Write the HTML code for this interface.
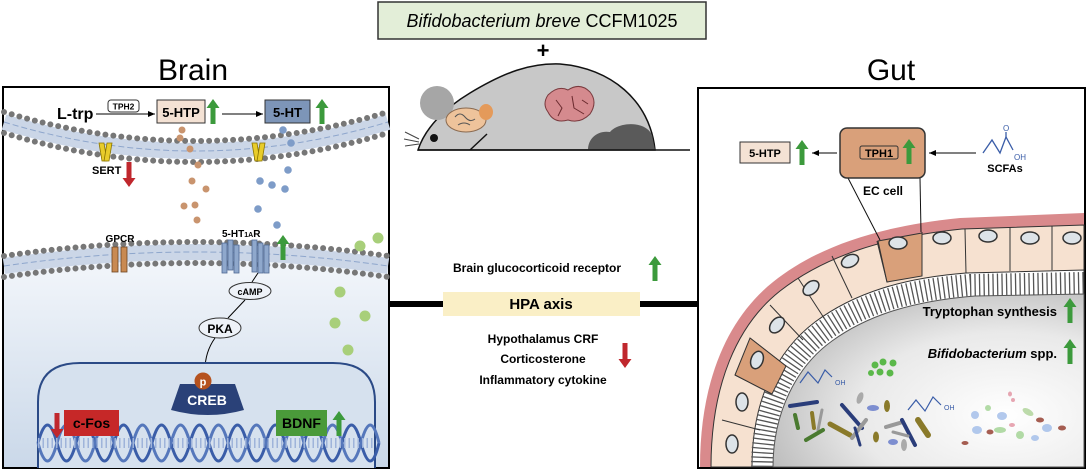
<!DOCTYPE html>
<html><head><meta charset="utf-8"><style>
html,body{margin:0;padding:0;background:#fff;}
svg{display:block;font-family:"Liberation Sans",Arial,sans-serif;}
.b{font-weight:bold;}
</style></head><body>
<svg width="1088" height="473" viewBox="0 0 1088 473" xmlns="http://www.w3.org/2000/svg">
<defs>
<g id="up"><polygon points="0,0 6.5,9 2.5,9 2.5,25 -2.5,25 -2.5,9 -6.5,9"/></g>
<g id="dn"><polygon points="0,25 6.5,16 2.5,16 2.5,0 -2.5,0 -2.5,16 -6.5,16"/></g>
<marker id="ah" markerWidth="8" markerHeight="8" refX="7" refY="4" orient="auto" markerUnits="userSpaceOnUse"><path d="M0,1 L7,4 L0,7 Z" fill="#000"/></marker>
<linearGradient id="cyto" x1="0" y1="0" x2="0" y2="1"><stop offset="0" stop-color="#f4f7fb"/><stop offset="1" stop-color="#cad8e9"/></linearGradient>
<radialGradient id="lumen" cx="0.75" cy="0.7" r="0.8"><stop offset="0" stop-color="#ffffff"/><stop offset="0.6" stop-color="#e9e9e9"/><stop offset="1" stop-color="#bdbdbd"/></radialGradient>
</defs>

<!-- Title -->
<rect x="378" y="2" width="328" height="37" fill="#e3eed8" stroke="#333" stroke-width="1.5"/>
<text x="542" y="27" text-anchor="middle" font-size="18"><tspan font-style="italic">Bifidobacterium breve</tspan> CCFM1025</text>
<text x="543" y="58" text-anchor="middle" font-size="22" class="b">+</text>

<text x="193" y="80" text-anchor="middle" font-size="30">Brain</text>
<text x="891" y="80" text-anchor="middle" font-size="30">Gut</text>

<!-- Mouse -->
<path d="M418,150 C425,128 445,108 470,93 C505,72 530,63 560,64 C610,68 650,100 655,150 Z" fill="#c8c8c8" stroke="#111" stroke-width="1.5"/>
<circle cx="437" cy="103" r="17" fill="#a6a6a6"/>
<path d="M588,150 C588,138 598,130 610,132 C618,122 645,120 652,135 L655,150 Z" fill="#5a5a5a"/>
<ellipse cx="466" cy="120" rx="20" ry="12" fill="#eec39b" stroke="#8a6a50"/>
<ellipse cx="486" cy="112" rx="7" ry="8" fill="#e49a5a"/>
<path d="M455,117 q5,-6 10,0 t10,2 M458,125 q6,-4 12,0" stroke="#555" fill="none"/>
<path d="M548,95 q10,-10 20,-5 q12,-8 22,2 q8,10 0,22 q-10,10 -22,6 q-14,4 -20,-8 q-6,-8 0,-17 Z" fill="#d58a8e" stroke="#7a3a3e"/>
<path d="M556,100 l6,8 l-4,8 M572,96 l2,12 l10,6 M582,100 l6,4" stroke="#6a2a2e" fill="none"/>
<circle cx="434" cy="138" r="4" fill="#111"/>
<path d="M405,132 l14,7 M404,139 l15,3 M405,146 l14,-2" stroke="#444"/>
<line x1="470" y1="150" x2="487" y2="134" stroke="#111" stroke-width="1.5"/>
<line x1="418" y1="150" x2="690" y2="150" stroke="#111" stroke-width="1.5"/>

<!-- Middle -->
<line x1="389" y1="304" x2="698" y2="304" stroke="#000" stroke-width="6"/>
<rect x="443" y="292" width="197" height="24" fill="#faefc6"/>
<text x="541" y="309" text-anchor="middle" font-size="15" class="b">HPA axis</text>
<text x="537" y="272" text-anchor="middle" font-size="12" class="b">Brain glucocorticoid receptor</text>
<use href="#up" x="655" y="256" fill="#3c9a3c"/>
<text x="543" y="343" text-anchor="middle" font-size="12" class="b">Hypothalamus CRF</text>
<text x="543" y="363" text-anchor="middle" font-size="12" class="b">Corticosterone</text>
<text x="543" y="384" text-anchor="middle" font-size="12" class="b">Inflammatory cytokine</text>
<use href="#dn" x="625" y="343" fill="#c0272d"/>

<!-- BRAIN PANEL -->
<rect x="3" y="87" width="386" height="381" fill="#fff" stroke="#000" stroke-width="2"/>
<path d="M4,266 Q195,238 388,266 L388,467 L4,467 Z" fill="url(#cyto)"/>
<path d="M4,122 Q195,180 388,122" stroke="#cbd6e7" stroke-width="16" fill="none"/>
<path d="M4,122 Q195,180 388,122" stroke="#8ea6cc" stroke-width="1" stroke-dasharray="6 3" fill="none"/>
<path d="M4,112 Q195,170 388,112" stroke="#777" stroke-width="6" stroke-linecap="round" stroke-dasharray="0 8" fill="none"/>
<path d="M4,133 Q195,191 388,133" stroke="#777" stroke-width="6" stroke-linecap="round" stroke-dasharray="0 8" fill="none"/>
<path d="M4,266 Q195,238 388,266" stroke="#cbd6e7" stroke-width="16" fill="none"/>
<path d="M4,266 Q195,238 388,266" stroke="#8ea6cc" stroke-width="1" stroke-dasharray="6 3" fill="none"/>
<path d="M4,256 Q195,228 388,256" stroke="#777" stroke-width="6" stroke-linecap="round" stroke-dasharray="0 8" fill="none"/>
<path d="M4,277 Q195,249 388,277" stroke="#777" stroke-width="6" stroke-linecap="round" stroke-dasharray="0 8" fill="none"/>

<text x="57" y="119" font-size="16" class="b">L-trp</text>
<rect x="108" y="100" width="31" height="12" rx="3" fill="#fff" stroke="#333"/>
<text x="123.5" y="109.5" text-anchor="middle" font-size="8.5" class="b">TPH2</text>
<line x1="96" y1="114" x2="155" y2="114" stroke="#000" marker-end="url(#ah)"/>
<rect x="157" y="100" width="48" height="23" fill="#f4e2d4" stroke="#333"/>
<text x="181" y="117" text-anchor="middle" font-size="13" class="b">5-HTP</text>
<use href="#up" x="213" y="99" fill="#3c9a3c"/>
<line x1="222" y1="114" x2="263" y2="114" stroke="#000" marker-end="url(#ah)"/>
<rect x="265" y="100" width="45" height="23" fill="#7d95b8" stroke="#333"/>
<text x="287.5" y="117" text-anchor="middle" font-size="13" class="b">5-HT</text>
<use href="#up" x="322" y="99" fill="#3c9a3c"/>

<g fill="#e8cc2a" stroke="#8a7400" stroke-width="0.8">
<path d="M99,143 l5,0 l3,18 l-5,0 Z"/><path d="M112,143 l-5,0 l-3,18 l5,0 Z"/>
<path d="M252,143 l5,0 l3,18 l-5,0 Z"/><path d="M265,143 l-5,0 l-3,18 l5,0 Z"/>
</g>
<text x="92" y="174" font-size="11" class="b">SERT</text>
<use href="#dn" x="129" y="162" fill="#c0272d"/>

<g fill="#c9946e">
<circle cx="182" cy="130" r="3.5"/><circle cx="180" cy="138" r="3.5"/><circle cx="190" cy="149" r="3.5"/><circle cx="198" cy="165" r="3.5"/><circle cx="192" cy="181" r="3.5"/><circle cx="206" cy="189" r="3.5"/><circle cx="184" cy="206" r="3.5"/><circle cx="195" cy="205" r="3.5"/><circle cx="197" cy="220" r="3.5"/>
</g>
<g fill="#7e9cc8">
<circle cx="283" cy="130" r="3.8"/><circle cx="291" cy="143" r="3.8"/><circle cx="288" cy="170" r="3.8"/><circle cx="260" cy="181" r="3.8"/><circle cx="272" cy="185" r="3.8"/><circle cx="285" cy="189" r="3.8"/><circle cx="258" cy="209" r="3.8"/><circle cx="277" cy="225" r="3.8"/>
</g>

<rect x="112" y="247" width="6" height="25" fill="#c98a52" stroke="#6d4422" stroke-width="0.8"/>
<rect x="121" y="247" width="6" height="25" fill="#c98a52" stroke="#6d4422" stroke-width="0.8"/>
<text x="120" y="242" text-anchor="middle" font-size="10" class="b">GPCR</text>
<g fill="#8fa8cc" stroke="#4f6a94" stroke-width="0.8">
<rect x="222" y="243" width="5" height="30"/><rect x="228" y="240" width="5" height="30"/><rect x="234" y="245" width="5" height="28"/>
<rect x="252" y="240" width="5" height="32"/><rect x="258" y="243" width="5" height="30"/><rect x="264" y="245" width="5" height="28"/>
</g>
<text x="222" y="237" font-size="10" class="b">5-HT<tspan font-size="7">1A</tspan>R</text>
<use href="#up" x="283" y="235" fill="#3c9a3c"/>
<g fill="#a8cf7a">
<circle cx="378" cy="238" r="5.5"/><circle cx="360" cy="246" r="5.5"/><circle cx="340" cy="292" r="5.5"/><circle cx="365" cy="316" r="5.5"/><circle cx="335" cy="323" r="5.5"/><circle cx="348" cy="350" r="5.5"/><circle cx="320" cy="388" r="5.5"/><circle cx="305" cy="400" r="5.5"/>
</g>
<path d="M258,273 L252,282" stroke="#000"/>
<ellipse cx="250" cy="291" rx="21" ry="8.5" fill="#eef2f8" stroke="#333"/>
<text x="250" y="295" text-anchor="middle" font-size="9" class="b">cAMP</text>
<path d="M245,300 L228,318" stroke="#000"/>
<ellipse cx="220" cy="328" rx="21" ry="10" fill="#eef2f8" stroke="#333"/>
<text x="220" y="333" text-anchor="middle" font-size="12" class="b">PKA</text>
<path d="M215,338 Q205,352 205,370" stroke="#000" fill="none" marker-end="url(#ah)"/>

<path d="M38,468 L38,402 Q38,363 80,363 L333,363 Q375,363 375,402 L375,468" fill="#d6e1ee" stroke="#2b4a86" stroke-width="2"/>
<g fill="none" stroke-width="3">
<path d="M38,443 q9.5,-36 19,0 t19,0 t19,0 t19,0 t19,0 t19,0 t19,0 t19,0 t19,0 t19,0 t19,0 t19,0 t19,0 t19,0 t19,0 t19,0 t19,0 t18,0" stroke="#3a5da8"/>
<path d="M38,443 q9.5,36 19,0 t19,0 t19,0 t19,0 t19,0 t19,0 t19,0 t19,0 t19,0 t19,0 t19,0 t19,0 t19,0 t19,0 t19,0 t19,0 t19,0 t18,0" stroke="#5577bb"/>
<line x1="38" y1="443" x2="375" y2="443" stroke="#9fb4da" stroke-width="10" stroke-dasharray="1.5 3"/>
</g>
<path d="M171,410 L180,384 L235,384 L244,410 Q208,420 171,410 Z" fill="#2a4178"/>
<text x="207" y="405" text-anchor="middle" font-size="14" fill="#fff" class="b">CREB</text>
<circle cx="203" cy="381" r="8.5" fill="#b5521f"/>
<text x="203" y="385.5" text-anchor="middle" font-size="11" fill="#fff" class="b">p</text>
<rect x="64" y="410" width="55" height="26" fill="#c62828"/>
<text x="91.5" y="428" text-anchor="middle" font-size="14" class="b">c-Fos</text>
<use href="#dn" x="57" y="413" fill="#c0272d"/>
<rect x="276" y="410" width="51" height="26" fill="#4a9a3a"/>
<text x="301.5" y="428" text-anchor="middle" font-size="14" class="b">BDNF</text>
<use href="#up" x="339" y="411" fill="#3c9a3c"/>

<!-- GUT PANEL -->
<rect x="698" y="88" width="387" height="380" fill="#fff" stroke="#000" stroke-width="2"/>
<g>
<path d="M700,467 C700,380 728,318 773,282 C818,246 880,226 960,218 L1084,213 L1084,467 Z" fill="#d98a8c"/>
<path d="M711,467 C711,385 737,325 780,291 C825,256 884,237 962,229 L1084,225 L1084,467 Z" fill="#f6e1d0" stroke="#333" stroke-width="1"/>
<path d="M752,467 C752,398 778,350 815,322 C854,293 903,278 966,273 L1084,270 L1084,467 Z" fill="#fff" stroke="#333"/>
<path d="M762,467 C762,405 787,358 822,332 C860,304 907,290 970,285 L1084,283" fill="none" stroke="#555" stroke-width="22" stroke-dasharray="1.3 3.2"/>
<path d="M773,467 C773,412 797,366 832,341 C868,315 913,301 975,296 L1084,294 L1084,467 Z" fill="url(#lumen)" stroke="#555"/>
</g>
<g stroke="#333" stroke-width="1" fill="none">
<line x1="922" y1="232" x2="922" y2="276"/><line x1="965" y1="229" x2="966" y2="273"/><line x1="1010" y1="227" x2="1010" y2="271"/><line x1="1052" y1="226" x2="1052" y2="270"/>
<line x1="877" y1="241" x2="887" y2="282"/><line x1="832" y1="256" x2="852" y2="298"/><line x1="798" y1="278" x2="824" y2="318"/><line x1="770" y1="305" x2="803" y2="340"/><line x1="750" y1="338" x2="786" y2="366"/><line x1="735" y1="375" x2="772" y2="394"/><line x1="722" y1="420" x2="760" y2="430"/>
</g>
<path d="M878,241 L922,233 L922,276 L887,282 Z" fill="#d9a07a" stroke="#333"/>
<path d="M735,375 L750,338 L786,366 L772,394 Z" fill="#d9a07a" stroke="#333"/>
<g fill="#dde3e8" stroke="#333" stroke-width="1.5">
<ellipse cx="898" cy="243" rx="9" ry="6"/><ellipse cx="942" cy="238" rx="9" ry="6"/><ellipse cx="988" cy="236" rx="9" ry="6"/><ellipse cx="1030" cy="238" rx="9" ry="6"/><ellipse cx="1072" cy="238" rx="9" ry="6"/>
<ellipse cx="850" cy="261" rx="9" ry="6" transform="rotate(-25 850 261)"/><ellipse cx="811" cy="288" rx="9" ry="6" transform="rotate(-40 811 288)"/><ellipse cx="777" cy="325" rx="9" ry="6" transform="rotate(-50 777 325)"/><ellipse cx="757" cy="360" rx="6" ry="9" transform="rotate(20 757 360)"/><ellipse cx="742" cy="402" rx="6" ry="9"/><ellipse cx="732" cy="444" rx="6" ry="9"/>
</g>
<line x1="848" y1="178" x2="880" y2="240" stroke="#111"/>
<line x1="920" y1="178" x2="921" y2="232" stroke="#111"/>
<rect x="740" y="142" width="50" height="21" fill="#f4e2d4" stroke="#333"/>
<text x="765" y="157" text-anchor="middle" font-size="11" class="b">5-HTP</text>
<use href="#up" x="802" y="140" fill="#3c9a3c"/>
<line x1="837" y1="153" x2="812" y2="153" stroke="#000" marker-end="url(#ah)"/>
<rect x="840" y="128" width="85" height="50" rx="7" fill="#d9a07a" stroke="#333" stroke-width="1.5"/>
<rect x="860" y="146" width="38" height="13" rx="2" fill="none" stroke="#333"/>
<text x="879" y="157" text-anchor="middle" font-size="11" class="b">TPH1</text>
<use href="#up" x="909" y="139" fill="#3c9a3c"/>
<line x1="976" y1="153" x2="929" y2="153" stroke="#000" marker-end="url(#ah)"/>
<text x="883" y="195" text-anchor="middle" font-size="12" class="b">EC cell</text>
<path d="M983,153 L992,140 L1000,153 L1006,137 L1013,150" fill="none" stroke="#3a5da8" stroke-width="1.3"/>
<path d="M1006,137 L1006,132" stroke="#3a5da8" stroke-width="1.3"/>
<text x="1003" y="131" font-size="8" fill="#3a5da8">O</text>
<text x="1014" y="160" font-size="8" fill="#3a5da8">OH</text>
<text x="1005" y="172" text-anchor="middle" font-size="11" class="b">SCFAs</text>

<text x="1057" y="316" text-anchor="end" font-size="13" class="b">Tryptophan synthesis</text>
<use href="#up" x="1070" y="298" fill="#3c9a3c"/>
<text x="1057" y="358" text-anchor="end" font-size="13" class="b"><tspan font-style="italic">Bifidobacterium</tspan>  spp.</text>
<use href="#up" x="1070" y="339" fill="#3c9a3c"/>

<g fill="#5bb84a"><circle cx="875" cy="365" r="3.5"/><circle cx="883" cy="362" r="3.5"/><circle cx="893" cy="363" r="3.5"/><circle cx="880" cy="372" r="3.5"/><circle cx="890" cy="373" r="3.5"/><circle cx="871" cy="373" r="3"/></g>
<path d="M800,383 L808,372 L818,383 L825,370 L832,377" fill="none" stroke="#3a5da8" stroke-width="1.2"/>
<text x="835" y="385" font-size="7" fill="#3a5da8">OH</text>
<path d="M908,410 L916,400 L925,411 L933,397 L941,405" fill="none" stroke="#3a5da8" stroke-width="1.2"/>
<text x="944" y="410" font-size="7" fill="#3a5da8">OH</text>
<g stroke-linecap="round">
<line x1="790" y1="406" x2="817" y2="402" stroke="#2a3d7a" stroke-width="4"/>
<line x1="795" y1="415" x2="798" y2="428" stroke="#4a7a30" stroke-width="4"/>
<line x1="812" y1="413" x2="814" y2="428" stroke="#8a7a2a" stroke-width="4"/>
<line x1="822" y1="410" x2="818" y2="430" stroke="#999" stroke-width="3"/>
<line x1="806" y1="440" x2="823" y2="430" stroke="#4a7a30" stroke-width="4"/>
<line x1="830" y1="424" x2="850" y2="435" stroke="#8a7a2a" stroke-width="5"/>
<line x1="842" y1="405" x2="862" y2="428" stroke="#2a3d7a" stroke-width="4"/>
<line x1="852" y1="438" x2="866" y2="420" stroke="#999" stroke-width="4"/>
<line x1="855" y1="428" x2="860" y2="445" stroke="#2a3d7a" stroke-width="3"/>
<line x1="886" y1="427" x2="903" y2="422" stroke="#999" stroke-width="4"/>
<line x1="902" y1="420" x2="915" y2="445" stroke="#2a3d7a" stroke-width="4"/>
<line x1="918" y1="420" x2="928" y2="435" stroke="#8a7a2a" stroke-width="6"/>
<line x1="893" y1="432" x2="908" y2="436" stroke="#999" stroke-width="3"/>
</g>
<g>
<ellipse cx="860" cy="398" rx="3" ry="6" fill="#aaa" transform="rotate(20 860 398)"/>
<ellipse cx="873" cy="408" rx="6" ry="3" fill="#7d8ed0"/>
<ellipse cx="887" cy="406" rx="3" ry="6" fill="#8a7a2a"/>
<ellipse cx="876" cy="437" rx="3" ry="5.5" fill="#8a7a2a"/>
<ellipse cx="893" cy="442" rx="5" ry="3" fill="#7d8ed0"/>
<ellipse cx="904" cy="445" rx="3" ry="6" fill="#aaa"/>
</g>
<g opacity="0.75">
<ellipse cx="975" cy="415" rx="4" ry="4" fill="#9ab8e8"/><ellipse cx="988" cy="408" rx="3" ry="3" fill="#9ad08a"/><ellipse cx="1002" cy="416" rx="5" ry="4" fill="#9ab8e8"/>
<ellipse cx="1028" cy="412" rx="6" ry="3" fill="#a8d090" transform="rotate(30 1028 412)"/><ellipse cx="1040" cy="420" rx="4" ry="2.5" fill="#8a2a1a"/>
<ellipse cx="1047" cy="428" rx="5" ry="4" fill="#9ab8e8"/><ellipse cx="1062" cy="428" rx="4" ry="2.5" fill="#8a2a1a"/>
<ellipse cx="977" cy="430" rx="5" ry="4" fill="#9ab8e8"/><ellipse cx="990" cy="432" rx="3.5" ry="2.5" fill="#8a2a1a"/>
<ellipse cx="1000" cy="430" rx="6" ry="3" fill="#9ad08a"/><ellipse cx="1012" cy="425" rx="3" ry="2" fill="#e08a9a"/>
<ellipse cx="1020" cy="435" rx="4" ry="4" fill="#9ad08a"/><ellipse cx="1035" cy="438" rx="4" ry="3" fill="#9ab8e8"/>
<ellipse cx="965" cy="443" rx="3.5" ry="2" fill="#8a2a1a"/><ellipse cx="1013" cy="400" rx="2" ry="2" fill="#e08a9a"/><ellipse cx="1010" cy="394" rx="2" ry="2.5" fill="#e08a9a"/>
</g>
</svg>
</body></html>
